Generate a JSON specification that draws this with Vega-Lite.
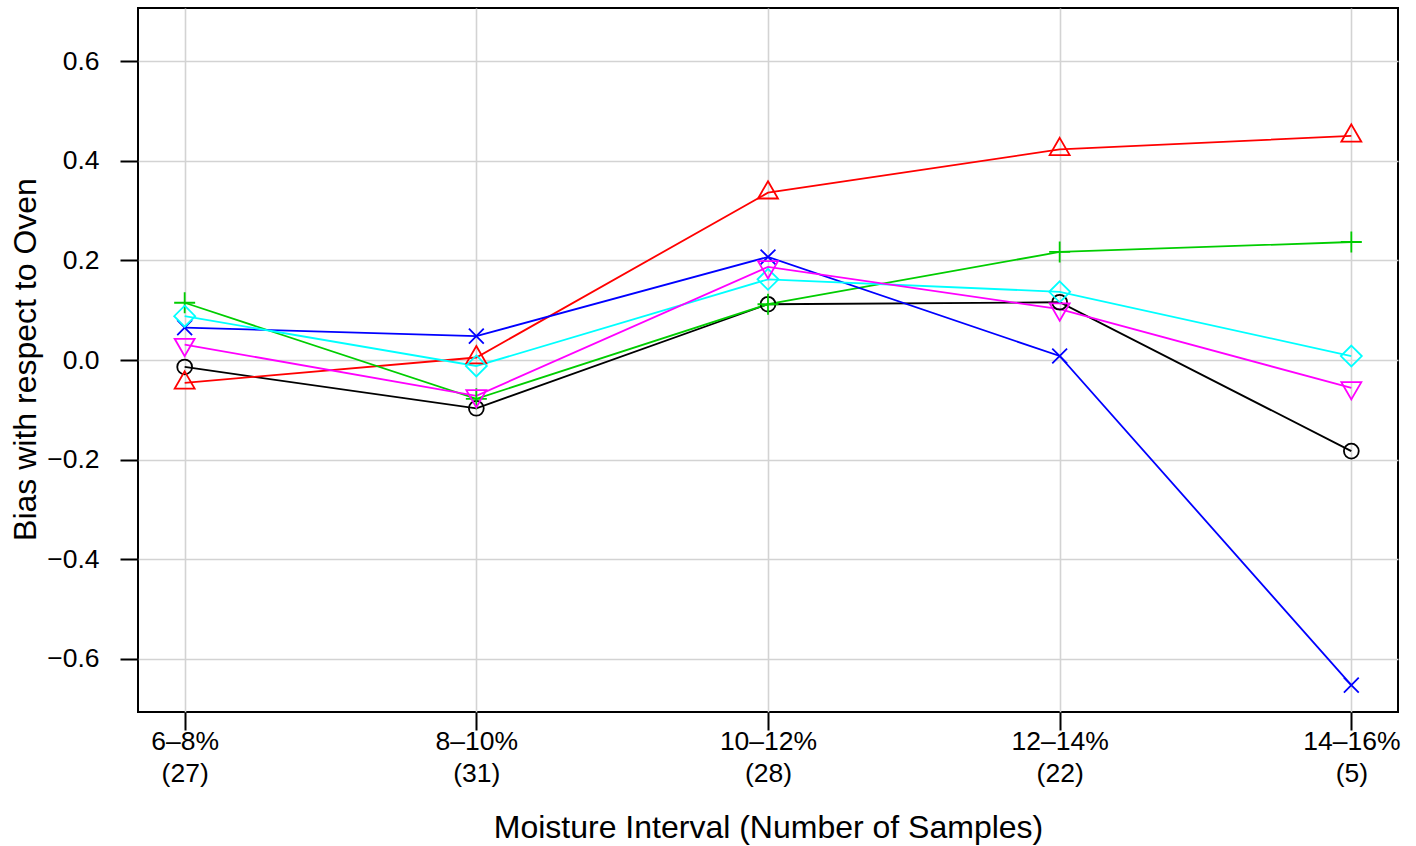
{
  "$schema": "https://vega.github.io/schema/vega-lite/v6.json",
  "width": 1260,
  "height": 704,
  "autosize": {"type": "none"},
  "padding": {"left": 138, "top": 8, "right": 18, "bottom": 134},
  "background": "white",
  "config": {
    "view": {"stroke": "black", "strokeWidth": 2},
    "font": "Liberation Sans",
    "axis": {
      "labelFont": "Liberation Sans",
      "titleFont": "Liberation Sans",
      "labelFontSize": 26.5,
      "titleFontSize": 32,
      "titleFontWeight": "normal",
      "labelColor": "black",
      "titleColor": "black",
      "tickColor": "black",
      "tickWidth": 2,
      "tickSize": 18,
      "domain": false,
      "grid": true,
      "gridColor": "#D3D3D3",
      "gridWidth": 1.6
    }
  },
  "data": {
    "values": [
      {"idx": 1, "series": "S1", "bias": -0.014},
      {"idx": 2, "series": "S1", "bias": -0.097},
      {"idx": 3, "series": "S1", "bias": 0.112},
      {"idx": 4, "series": "S1", "bias": 0.116},
      {"idx": 5, "series": "S1", "bias": -0.183},
      {"idx": 1, "series": "S2", "bias": -0.046},
      {"idx": 2, "series": "S2", "bias": 0.005},
      {"idx": 3, "series": "S2", "bias": 0.336},
      {"idx": 4, "series": "S2", "bias": 0.423},
      {"idx": 5, "series": "S2", "bias": 0.45},
      {"idx": 1, "series": "S3", "bias": 0.115},
      {"idx": 2, "series": "S3", "bias": -0.078},
      {"idx": 3, "series": "S3", "bias": 0.112},
      {"idx": 4, "series": "S3", "bias": 0.217},
      {"idx": 5, "series": "S3", "bias": 0.237},
      {"idx": 1, "series": "S4", "bias": 0.065},
      {"idx": 2, "series": "S4", "bias": 0.048},
      {"idx": 3, "series": "S4", "bias": 0.207},
      {"idx": 4, "series": "S4", "bias": 0.008},
      {"idx": 5, "series": "S4", "bias": -0.653},
      {"idx": 1, "series": "S5", "bias": 0.088},
      {"idx": 2, "series": "S5", "bias": -0.012},
      {"idx": 3, "series": "S5", "bias": 0.162},
      {"idx": 4, "series": "S5", "bias": 0.137},
      {"idx": 5, "series": "S5", "bias": 0.008},
      {"idx": 1, "series": "S6", "bias": 0.031},
      {"idx": 2, "series": "S6", "bias": -0.072},
      {"idx": 3, "series": "S6", "bias": 0.187},
      {"idx": 4, "series": "S6", "bias": 0.102},
      {"idx": 5, "series": "S6", "bias": -0.056}
    ]
  },
  "encoding": {
    "x": {
      "field": "idx",
      "type": "quantitative",
      "scale": {"domain": [0.84, 5.16], "nice": false, "zero": false},
      "axis": {
        "values": [1, 2, 3, 4, 5],
        "title": "Moisture Interval (Number of Samples)",
        "labelExpr": "datum.value == 1 ? ['6–8%', '(27)'] : datum.value == 2 ? ['8–10%', '(31)'] : datum.value == 3 ? ['10–12%', '(28)'] : datum.value == 4 ? ['12–14%', '(22)'] : ['14–16%', '(5)']",
        "labelLineHeight": 32,
        "labelPadding": -2,
        "labelFlush": false,
        "labelOverlap": false,
        "titleX": 630,
        "titleY": 125,
        "titleBaseline": "alphabetic",
        "titleAlign": "center"
      }
    },
    "y": {
      "field": "bias",
      "type": "quantitative",
      "scale": {"domain": [-0.707, 0.707], "nice": false, "zero": false},
      "axis": {
        "values": [-0.6, -0.4, -0.2, 0, 0.2, 0.4, 0.6],
        "format": ".1f",
        "title": "Bias with respect to Oven",
        "labelPadding": 21,
        "titleX": -103,
        "titleY": 351,
        "titleAngle": -90,
        "titleBaseline": "alphabetic",
        "titleAlign": "center"
      }
    },
    "color": {
      "field": "series",
      "type": "nominal",
      "scale": {
        "domain": ["S1", "S2", "S3", "S4", "S5", "S6"],
        "range": ["#000000", "#FF0000", "#00CD00", "#0000FF", "#00FFFF", "#FF00FF"]
      },
      "legend": null
    }
  },
  "layer": [
    {
      "mark": {"type": "line", "strokeWidth": 1.8}
    },
    {
      "mark": {"type": "point", "filled": false, "strokeWidth": 1.8, "size": 220, "opacity": 1},
      "encoding": {
        "shape": {
          "field": "series",
          "type": "nominal",
          "scale": {
            "domain": ["S1", "S2", "S3", "S4", "S5", "S6"],
            "range": [
              "circle",
              "M0,-1.555L1.347,0.778L-1.347,0.778Z",
              "M-1.414,0L1.414,0M0,-1.414L0,1.414",
              "M-1,-1L1,1M-1,1L1,-1",
              "M0,-1.414L1.414,0L0,1.414L-1.414,0Z",
              "M0,1.555L1.347,-0.778L-1.347,-0.778Z"
            ]
          },
          "legend": null
        }
      }
    }
  ]
}
